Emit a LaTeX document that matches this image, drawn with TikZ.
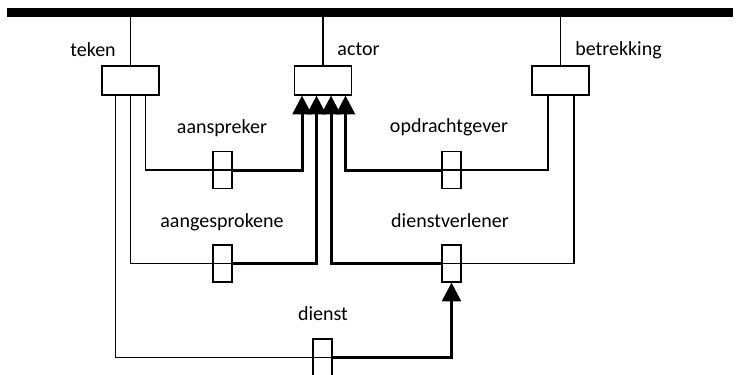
\documentclass[tikz,border=0pt]{standalone}
\usepackage{fontspec}
\setmainfont{Carlito}
\usetikzlibrary{arrows.meta}
\begin{document}
\begin{tikzpicture}[x=0.75pt,y=-0.75pt,
  bigbox/.style={draw,line width=0.9pt,minimum width=42.75pt,minimum height=21.75pt,inner sep=0pt},
  smallbox/.style={draw,line width=0.9pt,minimum width=14.25pt,minimum height=27.75pt,inner sep=0pt},
  lbl/.style={anchor=base,inner sep=0pt,font=\fontsize{15}{18}\selectfont},
  wire/.style={line width=1pt},
  heavy/.style={line width=2.25pt},
  arr/.style={heavy,-{Triangle[length=14pt,width=14pt]}}
]
\useasboundingbox (0,0) rectangle (737,374);
% bar
\coordinate (barL) at (7,12.7);
\coordinate (barR) at (733,12.7);
\draw[line width=6.75pt] (barL) -- (barR);
% big boxes
\node[bigbox] (teken) at (130.5,80.5) {};
\node[bigbox] (actor) at (323,80.5) {};
\node[bigbox] (betrekking) at (560.5,80.5) {};
% small boxes
\node[smallbox] (aanspreker) at (222.5,170) {};
\node[smallbox] (opdrachtgever) at (451.5,170) {};
\node[smallbox] (aangesprokene) at (222.5,263.5) {};
\node[smallbox] (dienstverlener) at (451.5,263.5) {};
\node[smallbox] (dienst) at (322.5,357.5) {};
% labels
\node[lbl] (lteken) at (93,56.7) {teken};
\node[lbl] (lactor) at (358.5,56) {actor};
\node[lbl] (lbetrekking) at (618.5,56) {betrekking};
\node[lbl] (laanspreker) at (222,133) {aanspreker};
\node[lbl] (lopdrachtgever) at (449,132.7) {opdrachtgever};
\node[lbl] (laangesprokene) at (222,227) {aangesprokene};
\node[lbl] (ldienstverlener) at (450,227) {dienstverlener};
\node[lbl] (ldienst) at (323,320.7) {dienst};
% top connectors
\draw[wire] (teken.north) -- (teken.north |- barL);
\draw[wire] (actor.north) -- (actor.north |- barL);
\draw[wire] (betrekking.north) -- (betrekking.north |- barL);
% teken lines
\draw[wire] ([xshift=11.25pt]teken.south) |- (aanspreker.east);
\draw[wire] (teken.south) |- (aangesprokene.east);
\draw[wire] ([xshift=-11.25pt]teken.south) |- (dienst.east);
% betrekking lines
\draw[wire] ([xshift=-9.375pt]betrekking.south) |- (opdrachtgever.west);
\draw[wire] ([xshift=10.125pt]betrekking.south) |- (dienstverlener.west);
% thick arrows
\draw[arr] (aanspreker.east) -| ([xshift=-15.75pt]actor.south);
\draw[arr] (aangesprokene.east) -| ([xshift=-4.875pt]actor.south);
\draw[arr] (dienstverlener.west) -| ([xshift=6pt]actor.south);
\draw[arr] (opdrachtgever.west) -| ([xshift=16.875pt]actor.south);
\draw[arr] (dienst.east) -| (dienstverlener.south);
\end{tikzpicture}
\end{document}
